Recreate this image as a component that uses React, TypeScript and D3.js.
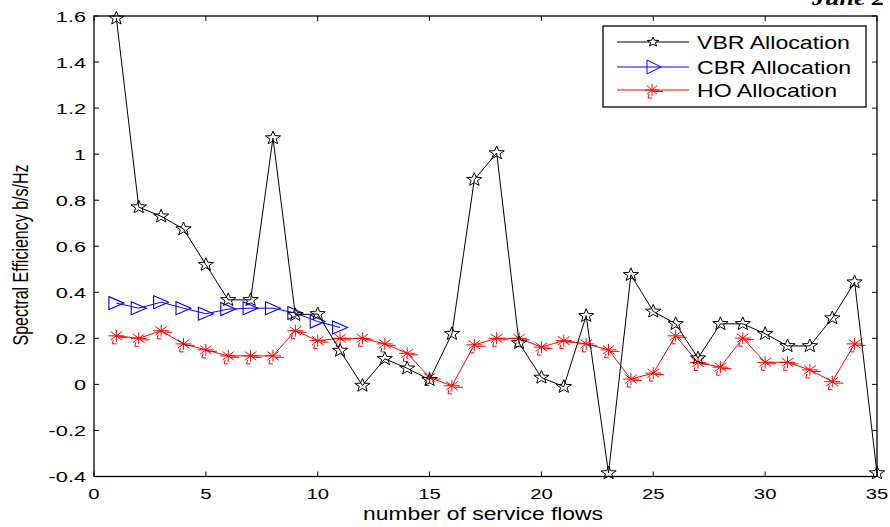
import React from "react";
import * as d3 from "d3";

const xs = d3.range(1, 36);
const vbr = [1.59, 0.77, 0.73, 0.675, 0.52, 0.367, 0.367, 1.07, 0.302, 0.306, 0.147, -0.005, 0.111, 0.07, 0.02, 0.22, 0.889, 1.005, 0.18, 0.03, -0.01, 0.298, -0.385, 0.476, 0.317, 0.263, 0.114, 0.263, 0.263, 0.22, 0.167, 0.167, 0.288, 0.444, -0.385];
const cbrX = d3.range(1, 12);
const cbr = [0.353, 0.331, 0.357, 0.331, 0.307, 0.327, 0.331, 0.331, 0.31, 0.273, 0.247];
const hoX = d3.range(1, 35);
const ho = [0.211, 0.2, 0.233, 0.176, 0.15, 0.124, 0.124, 0.124, 0.233, 0.19, 0.2, 0.2, 0.176, 0.135, 0.03, -0.006, 0.172, 0.2, 0.2, 0.162, 0.19, 0.176, 0.15, 0.023, 0.049, 0.211, 0.095, 0.075, 0.201, 0.096, 0.096, 0.063, 0.012, 0.176];
const xTicks = [0, 5, 10, 15, 20, 25, 30, 35];
const yTicks = [-0.4, -0.2, 0, 0.2, 0.4, 0.6, 0.8, 1, 1.2, 1.4, 1.6];
const legendLabels = ["VBR Allocation", "CBR Allocation", "HO Allocation"];

const L = 94, R = 877, T = 16, B = 476.5;
const FONT = "'Liberation Sans', Arial, sans-serif";

function starPath(cx: number, cy: number, rx: number, ry: number) {
  const pts: string[] = [];
  for (let i = 0; i < 10; i++) {
    const k = i % 2 === 0 ? 1 : 0.42;
    const a = -Math.PI / 2 + (i * Math.PI) / 5;
    pts.push(`${cx + rx * k * Math.cos(a)},${cy + ry * k * Math.sin(a)}`);
  }
  return "M" + pts.join("L") + "Z";
}
function triPath(cx: number, cy: number, rx: number, ry: number) {
  return `M${cx - rx},${cy - ry}L${cx + rx},${cy}L${cx - rx},${cy + ry}Z`;
}
function astPath(cx: number, cy: number, rx: number, ry: number) {
  const dx = rx * 0.72, dy = ry * 0.72;
  return `M${cx - rx},${cy}L${cx + rx},${cy}M${cx},${cy - ry}L${cx},${cy + ry}M${cx - dx},${cy - dy}L${cx + dx},${cy + dy}M${cx - dx},${cy + dy}L${cx + dx},${cy - dy}M${cx + 2},${cy + 1.5}L${cx + 11},${cy + 1.5}M${cx - 3},${cy + 4}L${cx - 4},${cy + 8}L${cx},${cy + 8}`;
}

function SText({ x, y, sx, children, anchor, size }: any) {
  return (
    <g transform={`translate(${x},${y}) scale(${sx},1)`}>
      <text x={0} y={0} textAnchor={anchor} fontFamily={FONT} fontSize={size}>{children}</text>
    </g>
  );
}

export default function App() {
  const x = d3.scaleLinear().domain([0, 35]).range([L, R]);
  const y = d3.scaleLinear().domain([-0.4, 1.6]).range([B, T]);
  const line = d3.line<[number, number]>().x((d) => x(d[0])).y((d) => y(d[1]));
  const vbrD: [number, number][] = xs.map((v, i) => [v, vbr[i]]);
  const cbrD: [number, number][] = cbrX.map((v, i) => [v, cbr[i]]);
  const hoD: [number, number][] = hoX.map((v, i) => [v, ho[i]]);
  const fmt = (v: number) => String(+v.toFixed(1));
  const tl = 5;
  return (
    <svg width={890} height={527} style={{ position: "absolute", left: 0, top: 0, background: "#fff" }}>
      <rect x={0} y={0} width={890} height={527} fill="#fff" />
      <g transform="translate(812,5) scale(1.3,1)">
        <text x={0} y={0} fontFamily="'Liberation Serif', serif" fontStyle="italic" fontWeight="bold" fontSize={20}>June</text>
      </g>
      <g transform="translate(872,5) scale(1.3,1)">
        <text x={0} y={0} fontFamily="'Liberation Serif', serif" fontStyle="italic" fontWeight="bold" fontSize={20}>2</text>
      </g>
      <rect x={L} y={T} width={R - L} height={B - T} fill="none" stroke="#000" strokeWidth={1.3} />
      {xTicks.map((t) => (
        <g key={"x" + t}>
          <line x1={x(t)} x2={x(t)} y1={B} y2={B - tl} stroke="#000" />
          <line x1={x(t)} x2={x(t)} y1={T} y2={T + tl} stroke="#000" />
          <SText x={x(t)} y={498.5} sx={1.4} anchor="middle" size={14.5}>{t}</SText>
        </g>
      ))}
      {yTicks.map((t) => (
        <g key={"y" + t}>
          <line x1={L} x2={L + tl} y1={y(t)} y2={y(t)} stroke="#000" />
          <line x1={R} x2={R - tl} y1={y(t)} y2={y(t)} stroke="#000" />
          <SText x={86} y={y(t) + 5.5} sx={1.55} anchor="end" size={14}>{fmt(t)}</SText>
        </g>
      ))}
      <SText x={483} y={520} sx={1.27} anchor="middle" size={18}>number of service flows</SText>
      <g transform={`translate(28,255) scale(1.4,1) rotate(-90)`}>
        <text x={0} y={0} textAnchor="middle" fontFamily={FONT} fontSize={16}>Spectral Efficiency b/s/Hz</text>
      </g>

      <path d={line(hoD) || ""} fill="none" stroke="#ff0000" strokeWidth={1} />
      {hoD.map((d, i) => (
        <path key={"h" + i} d={astPath(x(d[0]), y(d[1]), 8, 6)} fill="none" stroke="#ff0000" strokeWidth={1} />
      ))}
      <path d={line(cbrD) || ""} fill="none" stroke="#0000ff" strokeWidth={1} />
      {cbrD.map((d, i) => (
        <path key={"c" + i} d={triPath(x(d[0]), y(d[1]), 7.5, 6.5)} fill="none" stroke="#0000ff" strokeWidth={1.1} />
      ))}
      <path d={line(vbrD) || ""} fill="none" stroke="#000" strokeWidth={1} />
      {vbrD.map((d, i) => (
        <path key={"v" + i} d={starPath(x(d[0]), y(d[1]), 8, 7)} fill="none" stroke="#000" strokeWidth={1} />
      ))}

      <rect x={603} y={26} width={263} height={81} fill="#fff" stroke="#000" strokeWidth={1.3} />
      {legendLabels.map((lab, i) => {
        const ly = [42, 67, 90][i];
        const col = ["#000", "#0000ff", "#ff0000"][i];
        const mk = i === 0 ? starPath(653, ly, 6, 5) : i === 1 ? triPath(654, ly, 7, 7) : astPath(652, ly, 7, 6);
        return (
          <g key={lab}>
            <line x1={617} x2={689} y1={ly} y2={ly} stroke={col} strokeWidth={1} />
            <path d={mk} fill={i === 0 ? "#fff" : "none"} stroke={col} strokeWidth={1} />
            <SText x={697} y={ly + 7} sx={1.25} anchor="start" size={18.5}>{lab}</SText>
          </g>
        );
      })}
    </svg>
  );
}
